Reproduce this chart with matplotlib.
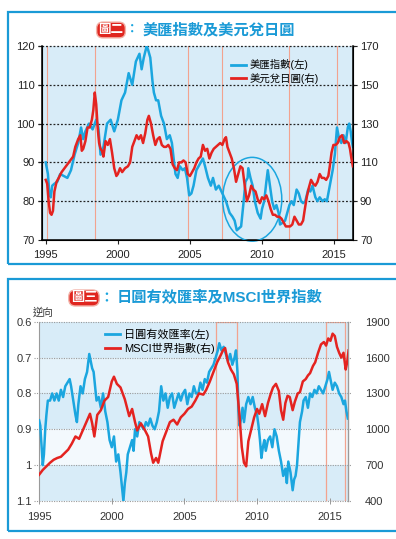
import numpy as np
import matplotlib
matplotlib.use("Agg")
import matplotlib.pyplot as plt
from matplotlib.patches import Ellipse, Rectangle
from matplotlib.lines import Line2D

plt.rcParams['font.family'] = ['Liberation Sans', 'Noto Sans CJK TC', 'DejaVu Sans']

# ---------------- data: top chart (US dollar index / USDJPY) ----------------
dxy_years = [1995.0, 1995.15, 1995.25, 1995.35, 1995.45, 1995.6, 1995.8, 1996.0, 1996.25, 1996.5,
             1996.75, 1997.0, 1997.25, 1997.45, 1997.6, 1997.75, 1998.0, 1998.25, 1998.5, 1998.65,
             1998.8, 1999.0, 1999.25, 1999.5, 1999.75, 2000.0, 2000.25, 2000.5, 2000.75, 2001.0,
             2001.25, 2001.5, 2001.65, 2001.8, 2002.0, 2002.1, 2002.25, 2002.4, 2002.5, 2002.65,
             2002.8, 2003.0, 2003.2, 2003.4, 2003.6, 2003.75, 2003.9, 2004.0, 2004.15, 2004.3,
             2004.5, 2004.65, 2004.8, 2004.95, 2005.1, 2005.25, 2005.45, 2005.6, 2005.75, 2005.9,
             2006.05, 2006.25, 2006.45, 2006.6, 2006.8, 2007.0, 2007.25, 2007.5, 2007.75, 2007.95,
             2008.1, 2008.25, 2008.4, 2008.55, 2008.7, 2008.85, 2009.0, 2009.05, 2009.2, 2009.35,
             2009.5, 2009.7, 2009.9, 2010.0, 2010.15, 2010.3, 2010.4, 2010.55, 2010.7, 2010.85,
             2011.0, 2011.15, 2011.25, 2011.45, 2011.6, 2011.75, 2011.9, 2012.05, 2012.2, 2012.4,
             2012.55, 2012.7, 2012.85, 2013.0, 2013.2, 2013.35, 2013.5, 2013.7, 2013.85, 2014.0,
             2014.2, 2014.35, 2014.5, 2014.6, 2014.75, 2014.9, 2015.05, 2015.2, 2015.35, 2015.5,
             2015.65, 2015.8, 2015.95, 2016.05, 2016.15, 2016.25, 2016.3]
dxy_values = [90, 87, 82, 81, 84, 84.5, 85, 87, 86.5, 86,
              88, 92, 95, 99, 96, 98, 100, 98.5, 101, 99,
              92, 94, 100, 101, 98, 101, 106, 108, 113, 110,
              116, 118, 114, 117, 120, 119, 117, 111, 108, 106,
              106, 102, 100, 96, 97, 95, 90, 87, 86, 89,
              88, 88.5, 86, 81.5, 82, 84, 88, 89, 90, 91,
              89, 86, 84, 86, 83, 84, 82, 80, 77, 76,
              75, 72.5, 73, 73.5, 79, 85, 86, 88.5, 86, 84,
              80, 77, 75.5, 78, 80, 85, 88, 84, 80, 78,
              79, 77, 74, 74.5, 75, 77, 79, 80, 79, 83,
              82, 80, 79.5, 80, 83, 82.5, 84, 81, 80, 81,
              80, 80.5, 80, 82, 85, 88, 92, 99, 96, 95,
              97, 95, 99, 100, 98, 95, 94]

usdjpy_years = [1995.0, 1995.1, 1995.2, 1995.3, 1995.4, 1995.5, 1995.6, 1995.75, 1995.9, 1996.1,
                1996.3, 1996.5, 1996.7, 1996.9, 1997.05, 1997.25, 1997.4, 1997.5, 1997.6, 1997.75,
                1997.9, 1998.05, 1998.2, 1998.3, 1998.4, 1998.5, 1998.6, 1998.7, 1998.8, 1998.9,
                1999.0, 1999.15, 1999.3, 1999.45, 1999.6, 1999.75, 1999.9, 2000.0, 2000.15, 2000.3,
                2000.5, 2000.7, 2000.85, 2001.0, 2001.15, 2001.3, 2001.45, 2001.6, 2001.75, 2001.9,
                2002.05, 2002.15, 2002.3, 2002.45, 2002.6, 2002.75, 2002.9, 2003.05, 2003.2, 2003.35,
                2003.5, 2003.65, 2003.8, 2003.95, 2004.1, 2004.25, 2004.4, 2004.55, 2004.7, 2004.85,
                2005.0, 2005.15, 2005.3, 2005.45, 2005.6, 2005.75, 2005.9, 2006.05, 2006.2, 2006.35,
                2006.5, 2006.65, 2006.8, 2006.95, 2007.1, 2007.25, 2007.4, 2007.5, 2007.6, 2007.75,
                2007.9, 2008.05, 2008.2, 2008.35, 2008.5, 2008.65, 2008.8, 2008.95, 2009.1, 2009.25,
                2009.4, 2009.55, 2009.7, 2009.85, 2010.0, 2010.15, 2010.3, 2010.45, 2010.6, 2010.75,
                2010.9, 2011.05, 2011.2, 2011.35, 2011.5, 2011.65, 2011.8, 2011.95, 2012.1, 2012.25,
                2012.4, 2012.55, 2012.7, 2012.85, 2012.95, 2013.1, 2013.25, 2013.4, 2013.55, 2013.7,
                2013.85, 2014.0, 2014.15, 2014.3, 2014.45, 2014.6, 2014.7, 2014.82, 2014.95, 2015.1,
                2015.25, 2015.4, 2015.55, 2015.7, 2015.85, 2016.0, 2016.1, 2016.2, 2016.3]
usdjpy_values = [101, 99, 90, 84, 83, 85, 95, 100, 102, 105,
                 107, 109, 111, 113, 118, 122, 124, 116, 117, 121,
                 128, 128, 132, 137, 146, 140, 128, 120, 117, 116,
                 113, 121, 119, 122, 115, 107, 103, 104, 107, 105,
                 107, 108, 110, 118, 121, 124, 122, 124, 120, 125,
                 132, 134, 130, 124, 119, 122, 123, 119, 118, 118,
                 119, 117, 109, 107, 106, 110, 110, 111, 110, 104,
                 103, 105, 107, 110, 112, 113, 119, 116, 117, 112,
                 115, 117, 118, 119, 120, 119, 122, 123, 118, 115,
                 112, 107, 100, 104, 108, 107, 98, 90, 93, 98,
                 96, 95, 91, 89, 92, 91, 93, 90, 86, 83,
                 83, 82, 82, 81, 79, 77, 77, 77, 78, 82,
                 80, 78, 78, 80, 85, 92, 97, 101, 99, 98,
                 100, 104, 102, 102, 101, 103, 108, 115, 119, 119,
                 120, 123, 124, 120, 121, 120, 117, 112, 108]

# ---------------- data: bottom chart (JPY REER / MSCI World) ----------------
reer_years = [1995.0, 1995.08, 1995.17, 1995.25, 1995.33, 1995.42, 1995.5, 1995.6, 1995.75, 1995.9,
              1996.05, 1996.2, 1996.35, 1996.5, 1996.65, 1996.8, 1996.95, 1997.1, 1997.2, 1997.35,
              1997.5, 1997.6, 1997.7, 1997.85, 1998.0, 1998.15, 1998.3, 1998.45, 1998.55, 1998.65,
              1998.75, 1998.85, 1998.95, 1999.1, 1999.25, 1999.4, 1999.55, 1999.7, 1999.85, 2000.0,
              2000.15, 2000.3, 2000.45, 2000.6, 2000.7, 2000.8, 2000.9, 2001.0, 2001.1, 2001.25,
              2001.4, 2001.5, 2001.6, 2001.75, 2001.9, 2002.05, 2002.2, 2002.35, 2002.5, 2002.65,
              2002.8, 2002.95, 2003.1, 2003.25, 2003.4, 2003.55, 2003.7, 2003.85, 2004.0, 2004.15,
              2004.3, 2004.45, 2004.6, 2004.75, 2004.9, 2005.05, 2005.2, 2005.35, 2005.5, 2005.65,
              2005.8, 2005.95, 2006.1, 2006.25, 2006.4, 2006.55, 2006.7, 2006.85, 2007.0, 2007.15,
              2007.3, 2007.4, 2007.55, 2007.7, 2007.85, 2008.0, 2008.15, 2008.3, 2008.45, 2008.55,
              2008.65, 2008.72, 2008.8, 2008.9, 2009.0, 2009.1, 2009.25, 2009.4, 2009.55, 2009.7,
              2009.85, 2010.0, 2010.1, 2010.2, 2010.3, 2010.4, 2010.5, 2010.6, 2010.75, 2010.9,
              2011.05, 2011.2, 2011.35, 2011.5, 2011.65, 2011.8, 2011.95, 2012.05, 2012.15, 2012.3,
              2012.45, 2012.55, 2012.65, 2012.75, 2012.85, 2012.95, 2013.1, 2013.2, 2013.35, 2013.5,
              2013.65, 2013.8, 2013.95, 2014.1, 2014.25, 2014.4, 2014.55, 2014.7, 2014.85, 2014.95,
              2015.05, 2015.2, 2015.35, 2015.5, 2015.65, 2015.8, 2015.95, 2016.05, 2016.15, 2016.25]
reer_values = [0.875, 0.89, 0.95, 1.00, 0.97, 0.90, 0.86, 0.82, 0.82, 0.80,
               0.82, 0.80, 0.82, 0.79, 0.81, 0.78, 0.77, 0.76, 0.78, 0.82,
               0.86, 0.88, 0.83, 0.78, 0.80, 0.76, 0.74, 0.69, 0.71, 0.73,
               0.74, 0.78, 0.82, 0.81, 0.84, 0.80, 0.85, 0.88, 0.93, 0.95,
               0.92, 0.99, 0.97, 1.02, 1.06, 1.10, 1.05, 1.02, 0.97, 0.95,
               0.93, 0.96, 0.90, 0.92, 0.88, 0.89, 0.90, 0.88, 0.89, 0.87,
               0.89, 0.90, 0.88, 0.85, 0.78, 0.82, 0.80, 0.84, 0.81, 0.80,
               0.84, 0.82, 0.80, 0.82, 0.80, 0.79, 0.83, 0.80, 0.81, 0.78,
               0.80, 0.80, 0.77, 0.79, 0.76, 0.77, 0.74, 0.73, 0.72, 0.70,
               0.68, 0.66, 0.68, 0.67, 0.69, 0.71, 0.69, 0.72, 0.70, 0.68,
               0.74, 0.85, 0.89, 0.87, 0.84, 0.88, 0.83, 0.81, 0.83, 0.81,
               0.84, 0.86, 0.89, 0.93, 0.98, 0.95, 0.93, 0.96, 0.93, 0.92,
               0.95, 0.90, 0.92, 0.96, 0.99, 1.03, 1.01, 1.05, 0.99, 1.02,
               1.07, 1.04, 1.03, 1.00, 0.94, 0.88, 0.85, 0.82, 0.81, 0.84,
               0.80, 0.81, 0.79, 0.80, 0.78, 0.79, 0.80, 0.78, 0.76, 0.74,
               0.76, 0.79, 0.77, 0.78, 0.80, 0.81, 0.83, 0.82, 0.85, 0.87]

msci_years = [1995.0, 1995.25, 1995.5, 1995.75, 1996.0, 1996.25, 1996.5, 1996.75, 1997.0, 1997.25,
              1997.5, 1997.75, 1998.0, 1998.25, 1998.5, 1998.65, 1998.8, 1999.0, 1999.25, 1999.5,
              1999.75, 2000.0, 2000.15, 2000.35, 2000.6, 2000.9, 2001.2, 2001.4, 2001.6, 2001.75,
              2002.0, 2002.25, 2002.5, 2002.7, 2002.85, 2003.05, 2003.2, 2003.5, 2003.75, 2004.0,
              2004.25, 2004.5, 2004.75, 2005.0, 2005.25, 2005.5, 2005.75, 2006.0, 2006.3, 2006.5,
              2006.75, 2007.0, 2007.25, 2007.5, 2007.65, 2007.8, 2008.0, 2008.2, 2008.4, 2008.6,
              2008.8, 2008.95, 2009.1, 2009.25, 2009.4, 2009.6, 2009.8, 2010.0, 2010.15, 2010.35,
              2010.55, 2010.75, 2010.95, 2011.1, 2011.3, 2011.5, 2011.65, 2011.8, 2011.95, 2012.1,
              2012.25, 2012.45, 2012.6, 2012.8, 2012.95, 2013.15, 2013.35, 2013.5, 2013.65, 2013.85,
              2014.0, 2014.2, 2014.4, 2014.6, 2014.75, 2014.9, 2015.05, 2015.2, 2015.35, 2015.5,
              2015.65, 2015.8, 2015.95, 2016.1, 2016.2, 2016.3]
msci_values = [620, 660, 690, 720, 745, 760, 770, 800, 830, 880,
               940, 920, 990, 1060, 1130, 1050, 940, 1120, 1160, 1240,
               1270, 1400, 1440, 1380, 1350, 1250, 1110, 1170, 1060, 990,
               1050, 1000, 940, 800, 720, 760, 720, 900, 980, 1060,
               1080, 1040, 1100, 1130, 1170, 1190, 1240, 1300, 1290, 1330,
               1400, 1480, 1560, 1620, 1660, 1680, 1560, 1500, 1460, 1380,
               1100, 850, 720, 690, 900, 1000, 1100, 1170, 1130, 1210,
               1110, 1220, 1300, 1350, 1380, 1320, 1160, 1080, 1220, 1280,
               1270, 1160, 1230, 1300, 1310, 1400, 1420, 1450, 1470, 1530,
               1560, 1640, 1710, 1730, 1700, 1760, 1740, 1800, 1780, 1690,
               1640, 1600, 1640, 1500, 1560, 1660]

# shaded event markers
top_event_years = [1995.07, 1998.45, 2004.87, 2007.22, 2011.87, 2015.2]
bottom_event_spans = [(2007.2, 2008.63), (2014.73, 2016.05)]

blue = '#1ba6df'
red = '#e42320'
W, H = 396, 539
fig = plt.figure(figsize=(W / 100, H / 100), dpi=100)


def fx(px):
    return px / W


def fy(py):
    return 1 - py / H


# panel frames
for top, bot in [(12.3, 264), (279, 531)]:
    fig.add_artist(Rectangle((fx(8), fy(bot)), 1.0, fy(top) - fy(bot), transform=fig.transFigure,
                             fill=False, edgecolor='#1a9ad6', linewidth=1.6))

# ================= top chart =================
ax1 = fig.add_axes([fx(42), fy(240), fx(353) - fx(42), fy(46) - fy(240)])
ax1.set_facecolor('#d8ecf8')
ax1.set_xlim(1994.74, 2016.31)
ax1.set_ylim(70, 120)
for yr in top_event_years:
    ax1.axvline(yr, color='#f2a38f', lw=0.8, zorder=1)
ax1.hlines([80, 90, 100, 110, 120], 1994.45, 2016.6, colors='#222222', linestyles=(0, (1.5, 1.5)),
           lw=0.9, clip_on=False, zorder=2)
ax1.plot(dxy_years, dxy_values, color=blue, lw=1.8, zorder=3)
ax1.add_patch(Ellipse((2009.32, 80.5), 4.1, 21.6, fill=False, edgecolor=blue, lw=1.1,
                      clip_on=False, zorder=4))
ax1.set_yticks([70, 80, 90, 100, 110, 120])
ax1.set_xticks([1995, 2000, 2005, 2010, 2015])
ax1.tick_params(labelsize=8, length=3, width=0.8, colors='#222222', pad=2)
ax1.tick_params(axis='x', pad=4)
ax1.spines['top'].set_visible(False)
for s in ['left', 'bottom']:
    ax1.spines[s].set_linewidth(1.1)

ax2 = ax1.twinx()
ax2.set_ylim(70, 170)
ax2.plot(usdjpy_years, usdjpy_values, color=red, lw=1.8, zorder=3)
ax2.set_yticks([70, 90, 110, 130, 150, 170])
ax2.tick_params(labelsize=8, length=3, width=0.8, colors='#222222', pad=2)
ax2.spines['top'].set_visible(False)
ax2.spines['right'].set_linewidth(1.1)

fig.legend(handles=[Line2D([], [], color=blue, lw=2), Line2D([], [], color=red, lw=2)],
           labels=['美匯指數(左)', '美元兌日圓(右)'], loc='upper left',
           bbox_to_anchor=(fx(226), fy(54)), frameon=False, fontsize=7.5,
           handlelength=1.4, handletextpad=0.35, labelspacing=0.25, borderpad=0)

# title with badge
fig.text(fx(111), fy(30), '圖二', color='white', fontsize=9, fontweight='bold',
         ha='center', va='center',
         bbox=dict(boxstyle='round,pad=0.15,rounding_size=0.5', fc='#e0261f', ec='#f3b1a7', lw=1))
fig.text(fx(132), fy(30), '：', color=blue, fontsize=9, fontweight='bold', ha='center', va='center')
fig.text(fx(143), fy(30), '美匯指數及美元兌日圓', color='#1a9ad6', fontsize=11,
         fontweight='bold', ha='left', va='center')

# ================= bottom chart =================
bx1 = fig.add_axes([fx(38.7), fy(501), fx(348.3) - fx(38.7), fy(321.7) - fy(501)])
bx1.set_facecolor('#f3f9fd')
bx1.set_xlim(1994.97, 2016.28)
bx1.set_ylim(1.1, 0.6)
for lo, hi in [(0.6, 0.7), (0.8, 0.9), (1.0, 1.1)]:
    bx1.axhspan(lo, hi, color='#d8ecf8', lw=0, zorder=0)
bx1.axhspan(0.7, 0.8, color='#e4f2fa', lw=0, zorder=0)
for x0, x1 in bottom_event_spans:
    bx1.add_patch(Rectangle((x0, 0.6), x1 - x0, 0.5, fill=False, edgecolor='#f2a38f', lw=0.9, zorder=1))
bx1.hlines([0.6, 0.7, 0.8, 0.9, 1.0, 1.1], 1994.65, 2016.5, colors='#9a9a9a',
           linestyles=(0, (1, 1.2)), lw=0.8, clip_on=False, zorder=2)
bx1.plot(reer_years, reer_values, color=blue, lw=1.8, zorder=3)
bx1.set_yticks([0.6, 0.7, 0.8, 0.9, 1.0, 1.1])
bx1.set_yticklabels(['0.6', '0.7', '0.8', '0.9', '1', '1.1'])
bx1.set_xticks([1995, 2000, 2005, 2010, 2015])
bx1.tick_params(labelsize=8, colors='#333333', pad=2)
bx1.tick_params(axis='y', length=0, pad=5)
bx1.tick_params(axis='x', direction='inout', length=4, width=0.7, color='#999999', pad=6)
for s in ['top', 'bottom']:
    bx1.spines[s].set_visible(False)
bx1.spines['left'].set_color('#9a9a9a')
bx1.spines['left'].set_linewidth(0.8)

bx2 = bx1.twinx()
bx2.set_ylim(400, 1900)
bx2.plot(msci_years, msci_values, color=red, lw=1.8, zorder=3)
bx2.set_yticks([400, 700, 1000, 1300, 1600, 1900])
bx2.tick_params(labelsize=8, colors='#333333', length=0, pad=12)
for s in ['top', 'bottom', 'left']:
    bx2.spines[s].set_visible(False)
bx2.spines['right'].set_color('#9a9a9a')
bx2.spines['right'].set_linewidth(0.8)

fig.text(fx(33), fy(313), '逆向', fontsize=7.5, color='#333333', ha='left', va='center')

fig.legend(handles=[Line2D([], [], color=blue, lw=2), Line2D([], [], color=red, lw=2)],
           labels=['日圓有效匯率(左)', 'MSCI世界指數(右)'], loc='upper left',
           bbox_to_anchor=(fx(99), fy(323)), frameon=False, fontsize=8,
           handlelength=1.4, handletextpad=0.35, labelspacing=0.25, borderpad=0)

fig.text(fx(84), fy(298), '圖三', color='white', fontsize=9.5, fontweight='bold',
         ha='center', va='center',
         bbox=dict(boxstyle='round,pad=0.15,rounding_size=0.5', fc='#e0261f', ec='#f3b1a7', lw=1))
fig.text(fx(106), fy(298), '：', color=blue, fontsize=10, fontweight='bold', ha='center', va='center')
fig.text(fx(117), fy(298), '日圓有效匯率及MSCI世界指數', color='#1a9ad6', fontsize=11,
         fontweight='bold', ha='left', va='center')

fig.savefig('out.png', dpi=100)
